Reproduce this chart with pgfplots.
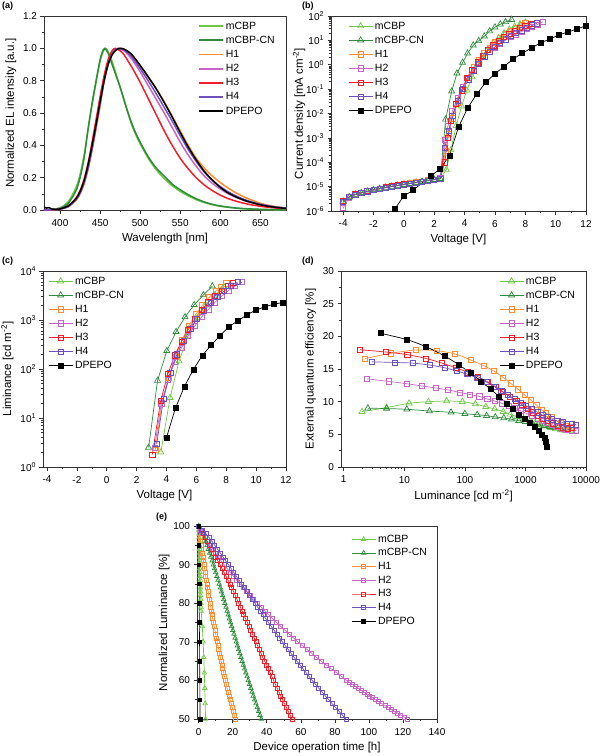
\documentclass[border=0pt]{standalone}
\usepackage{fontspec}
\setmainfont{Liberation Sans}
\usepackage{pgfplots}
\pgfplotsset{compat=1.18}
\definecolor{cA}{RGB}{110,200,70}
\definecolor{cB}{RGB}{46,140,60}
\definecolor{cH1}{RGB}{255,140,50}
\definecolor{cH2}{RGB}{200,100,200}
\definecolor{cH3}{RGB}{240,30,40}
\definecolor{cH4}{RGB}{110,80,190}
\definecolor{cK}{RGB}{0,0,0}
\pgfplotsset{
  myaxis/.style={
    scale only axis,
    axis line style={line width=0.7pt, black!80},
    tick align=outside,
    tick pos=left,
    major tick length=3.5pt,
    minor tick length=2pt,
    every tick/.style={black!80, line width=0.6pt},
    tick label style={font=\fontsize{10}{11}\selectfont},
    xticklabel shift=2pt,
    label style={font=\fontsize{11.5}{12}\selectfont},
    /pgf/number format/assume math mode=true,
    /pgf/number format/1000 sep={},
    legend cell align=left,
    legend style={draw=none, fill=none, font=\fontsize{10.5}{11}\selectfont, inner sep=0pt, row sep=1.3pt},
    legend image code/.code={\draw[mark repeat=2,mark phase=2,##1] plot coordinates {(0pt,0pt) (12pt,0pt) (24pt,0pt)};},
  },
  legaxis/.style={scale only axis, hide axis, xmin=0, xmax=1, ymin=0, ymax=1,
    legend cell align=left,
    legend style={draw=none, fill=none, font=\fontsize{10.5}{11}\selectfont, inner sep=0pt, row sep=1.4pt},
  },
  sA/.style={draw=cA, mark options={draw=cA}},
  sB/.style={draw=cB, mark options={draw=cB}},
  s1/.style={draw=cH1, mark options={draw=cH1}},
  s2/.style={draw=cH2, mark options={draw=cH2}},
  s3/.style={draw=cH3, mark options={draw=cH3}},
  s4/.style={draw=cH4, mark options={draw=cH4}},
  sK/.style={draw=cK, mark options={draw=cK, fill=cK}},
  tri/.style={mark=triangle, mark size=3.5pt, line width=0.7pt, mark options={solid, line width=0.7pt}},
  sq/.style={mark=square, mark size=2.6pt, line width=0.7pt, mark options={solid, line width=0.7pt}},
  fsq/.style={mark=square*, mark size=2.5pt, line width=0.7pt, mark options={solid}},
  trie/.style={mark=triangle, mark size=2.6pt, line width=0.7pt, mark options={solid, line width=0.7pt}},
  sqe/.style={mark=square, mark size=2pt, line width=0.7pt, mark options={solid, line width=0.7pt}},
  fsqe/.style={mark=square*, mark size=1.8pt, line width=0.6pt, mark options={solid}},
}
\begin{document}
\begin{tikzpicture}
\path[use as bounding box] (0,0) rectangle (602pt,-756pt);
\tikzset{plab/.style={anchor=north west, inner sep=0pt, font=\bfseries\fontsize{9}{10}\selectfont}}
\node[plab] at (2pt,-2pt) {(a)};
\node[plab] at (302pt,-2pt) {(b)};
\node[plab] at (2pt,-257pt) {(c)};
\node[plab] at (302pt,-257pt) {(d)};
\node[plab] at (156pt,-513pt) {(e)};

% ---------------- (a) ----------------
\begin{axis}[myaxis, at={(44pt,-210pt)}, anchor=south west, width=242pt, height=194pt,
  xmin=380, xmax=682, ymin=0, ymax=1.2,
  xtick={400,450,500,550,600,650}, minor x tick num=1,
  ytick={0,0.2,0.4,0.6,0.8,1.0,1.2}, minor y tick num=1,
  yticklabel style={/pgf/number format/.cd, fixed, fixed zerofill, precision=1},
  xlabel={Wavelength [nm]}, ylabel={Normalized EL intensity [a.u.]},
]
\addplot[sA, line width=1.5pt, smooth] coordinates {(380,0) (390,0.004) (400,0.014) (410,0.05) (420,0.14) (425,0.22) (430,0.34) (435,0.5) (440,0.65) (445,0.79) (450,0.92) (454,0.98) (457,1.0) (460,0.98) (465,0.92) (470,0.84) (475,0.76) (480,0.675) (485,0.595) (490,0.52) (495,0.46) (500,0.41) (510,0.32) (520,0.25) (530,0.195) (540,0.15) (550,0.115) (560,0.087) (570,0.064) (580,0.046) (590,0.033) (600,0.023) (620,0.011) (640,0.005) (660,0.002) (682,0.001)};
\addplot[sB, line width=1.5pt, smooth] coordinates {(380,0) (390,0.003) (400,0.01) (410,0.04) (420,0.12) (425,0.2) (430,0.32) (435,0.5) (440,0.66) (445,0.8) (450,0.93) (453,0.98) (456,1.0) (460,0.97) (465,0.9) (470,0.83) (475,0.76) (480,0.68) (485,0.6) (490,0.53) (495,0.47) (500,0.42) (510,0.33) (520,0.26) (530,0.21) (540,0.16) (550,0.125) (560,0.095) (570,0.07) (580,0.05) (590,0.035) (600,0.025) (620,0.012) (640,0.006) (660,0.003) (682,0.001)};
\addplot[s1, line width=1.5pt, smooth] coordinates {(380,0) (390,0.002) (400,0.006) (410,0.02) (420,0.06) (425,0.1) (430,0.16) (435,0.25) (440,0.37) (445,0.5) (450,0.64) (455,0.79) (460,0.9) (465,0.96) (470,0.99) (475,1.0) (480,0.995) (485,0.98) (490,0.955) (500,0.89) (510,0.82) (520,0.75) (530,0.67) (540,0.58) (550,0.49) (560,0.40) (570,0.32) (580,0.26) (590,0.21) (600,0.17) (610,0.135) (620,0.105) (630,0.08) (640,0.06) (650,0.042) (660,0.029) (670,0.02) (682,0.013)};
\addplot[s2, line width=1.5pt, smooth] coordinates {(380,0) (390,0.002) (400,0.006) (410,0.02) (420,0.065) (425,0.105) (430,0.17) (435,0.26) (440,0.38) (445,0.52) (450,0.66) (455,0.8) (460,0.91) (465,0.97) (472,1.0) (480,0.985) (485,0.96) (490,0.93) (500,0.855) (510,0.77) (520,0.685) (530,0.6) (540,0.51) (550,0.42) (560,0.34) (570,0.27) (580,0.21) (590,0.165) (600,0.13) (610,0.1) (620,0.077) (630,0.058) (640,0.044) (650,0.033) (660,0.024) (670,0.017) (682,0.012)};
\addplot[s3, line width=1.5pt, smooth] coordinates {(380,0) (390,0.002) (400,0.007) (410,0.024) (420,0.075) (425,0.12) (430,0.19) (435,0.29) (440,0.42) (445,0.56) (450,0.7) (455,0.83) (460,0.93) (465,0.985) (469,1.0) (475,0.985) (480,0.96) (485,0.92) (490,0.88) (500,0.79) (510,0.69) (520,0.59) (530,0.49) (540,0.4) (550,0.32) (560,0.255) (570,0.2) (580,0.155) (590,0.12) (600,0.092) (610,0.07) (620,0.054) (630,0.041) (640,0.031) (650,0.023) (660,0.017) (670,0.012) (682,0.008)};
\addplot[s4, line width=1.5pt, smooth] coordinates {(380,0) (390,0.002) (400,0.006) (410,0.02) (420,0.065) (425,0.105) (430,0.17) (435,0.26) (440,0.38) (445,0.52) (450,0.66) (455,0.8) (460,0.9) (465,0.965) (470,0.995) (474,1.0) (480,0.99) (485,0.97) (490,0.945) (500,0.875) (510,0.8) (520,0.72) (530,0.635) (540,0.55) (550,0.46) (560,0.375) (570,0.3) (580,0.235) (590,0.185) (600,0.145) (610,0.112) (620,0.086) (630,0.065) (640,0.049) (650,0.036) (660,0.026) (670,0.018) (682,0.012)};
\addplot[sK, line width=1.5pt, smooth] coordinates {(380,0.018) (383,0.012) (386,0.015) (390,0.006) (395,0.004) (400,0.007) (410,0.025) (420,0.07) (425,0.115) (430,0.18) (435,0.28) (440,0.4) (445,0.53) (450,0.67) (455,0.8) (460,0.9) (465,0.96) (470,0.99) (475,1.0) (480,0.995) (485,0.98) (490,0.96) (500,0.895) (510,0.825) (520,0.75) (530,0.665) (540,0.575) (550,0.48) (560,0.39) (570,0.31) (580,0.24) (590,0.185) (600,0.14) (610,0.105) (620,0.08) (630,0.06) (640,0.045) (650,0.032) (660,0.023) (670,0.016) (682,0.01)};
\end{axis}
\begin{axis}[legaxis, at={(44pt,-210pt)}, anchor=south west, width=242pt, height=194pt,
  legend style={at={(0.636,0.982)}, anchor=north west},
  legend image code/.code={\draw[#1] (0pt,0pt) -- (24pt,0pt);}]
\addlegendimage{sA, line width=1.7pt}\addlegendentry{mCBP}
\addlegendimage{sB, line width=1.7pt}\addlegendentry{mCBP-CN}
\addlegendimage{s1, line width=1.7pt}\addlegendentry{H1}
\addlegendimage{s2, line width=1.7pt}\addlegendentry{H2}
\addlegendimage{s3, line width=1.7pt}\addlegendentry{H3}
\addlegendimage{s4, line width=1.7pt}\addlegendentry{H4}
\addlegendimage{sK, line width=1.7pt}\addlegendentry{DPEPO}
\end{axis}

% ---------------- (b) ----------------
\begin{axis}[myaxis, at={(331pt,-211pt)}, anchor=south west, width=255pt, height=195pt,
  ymode=log, xmin=-4.8, xmax=12, ymin=1e-6, ymax=100, clip=false,
  xtick={-4,-2,0,2,4,6,8,10,12}, minor x tick num=1,
  ytick={1e-6,1e-5,1e-4,1e-3,1e-2,1e-1,1,10,100},
  yticklabels={10\textsuperscript{-6},10\textsuperscript{-5},10\textsuperscript{-4},10\textsuperscript{-3},10\textsuperscript{-2},10\textsuperscript{-1},10\textsuperscript{0},10\textsuperscript{1},10\textsuperscript{2}},
  xlabel={Voltage [V]}, ylabel={Current density [mA cm\textsuperscript{-2}]},
  ylabel style={yshift=-6pt},
  legend style={at={(0.067,0.982)}, anchor=north west},
]
\addplot[sA, tri] coordinates {(-4,2.51e-6) (-3.6,3.8e-6) (-3.2,4.79e-6) (-2.8,5.62e-6) (-2.4,6.46e-6) (-2,7.41e-6) (-1.6,8.32e-6) (-1.2,9.33e-6) (-0.8,1.02e-5) (-0.4,1.12e-5) (0,1.23e-5) (0.4,1.35e-5) (0.8,1.48e-5) (1.2,1.62e-5) (1.6,1.78e-5) (2,1.95e-5) (2.4,2.14e-5) (2.8,5.0e-5) (3.1,3.16e-4) (3.45,3.16e-3) (3.8,2.0e-2) (4.15,8.9e-2) (4.5,0.316) (4.85,1.0) (5.2,2.24) (5.55,4.47) (5.9,7.94) (6.25,12.6) (6.6,20.0) (6.95,28.2) (7.3,37.2) (7.65,46.8) (8.0,55.0)};
\addlegendentry{mCBP}
\addplot[sB, tri] coordinates {(-4,2.4e-6) (-3.6,3.7e-6) (-3.2,4.7e-6) (-2.8,5.5e-6) (-2.4,6.3e-6) (-2,7.2e-6) (-1.6,8.1e-6) (-1.2,9.1e-6) (-0.8,1.0e-5) (-0.4,1.1e-5) (0,1.2e-5) (0.4,1.32e-5) (0.8,1.45e-5) (1.2,1.6e-5) (1.6,1.75e-5) (2,1.92e-5) (2.4,2.1e-5) (2.75,5.75e-3) (3.15,8.13e-2) (3.5,0.447) (3.87,1.23) (4.2,2.95) (4.57,6.31) (4.93,9.55) (5.3,14.8) (5.65,24.0) (6.0,34.7) (6.35,45.7) (6.7,57.5) (7.1,70.8)};
\addlegendentry{mCBP-CN}
\addplot[s1, sq] coordinates {(-4,2.6e-6) (-3.6,3.9e-6) (-3.2,4.85e-6) (-2.8,5.7e-6) (-2.4,6.5e-6) (-2,7.5e-6) (-1.6,8.4e-6) (-1.2,9.4e-6) (-0.8,1.03e-5) (-0.4,1.13e-5) (0,1.24e-5) (0.4,1.36e-5) (0.8,1.49e-5) (1.2,1.63e-5) (1.6,1.8e-5) (2,1.97e-5) (2.4,2.16e-5) (2.75,3.0e-4) (2.95,1.5e-3) (3.2,6.3e-3) (3.55,2.8e-2) (3.9,0.1) (4.25,0.3) (4.6,0.8) (4.95,1.6) (5.3,3.0) (5.65,5.0) (6.0,8.3) (6.35,12.3) (6.7,17.8) (7.05,24.5) (7.4,33.0) (7.75,43.7) (8.0,53.7)};
\addlegendentry{H1}
\addplot[s2, sq] coordinates {(-4,1.3e-6) (-3.6,3.6e-6) (-3.2,4.7e-6) (-2.8,5.6e-6) (-2.4,6.4e-6) (-2,7.4e-6) (-1.6,8.3e-6) (-1.2,9.3e-6) (-0.8,1.02e-5) (-0.4,1.12e-5) (0,1.23e-5) (0.4,1.35e-5) (0.8,1.48e-5) (1.2,1.62e-5) (1.6,1.78e-5) (2,1.95e-5) (2.4,2.2e-5) (2.7,8.0e-4) (2.9,3.0e-3) (3.2,1.26e-2) (3.55,4.5e-2) (3.9,0.126) (4.25,0.3) (4.6,0.63) (4.95,1.12) (5.3,2.2) (5.65,3.5) (6.0,5.2) (6.35,7.4) (6.7,10.2) (7.05,13.5) (7.4,17.8) (7.75,23) (8.1,29) (8.45,36.3) (8.8,45) (9.15,57)};
\addlegendentry{H2}
\addplot[s3, sq] coordinates {(-4,2.55e-6) (-3.6,3.85e-6) (-3.2,4.8e-6) (-2.8,5.65e-6) (-2.4,6.5e-6) (-2,7.45e-6) (-1.6,8.35e-6) (-1.2,9.35e-6) (-0.8,1.02e-5) (-0.4,1.12e-5) (0,1.23e-5) (0.4,1.35e-5) (0.8,1.48e-5) (1.2,1.62e-5) (1.6,1.78e-5) (2,1.95e-5) (2.4,2.14e-5) (2.7,1.0e-4) (2.9,1.0e-3) (3.1,5.0e-3) (3.45,2.5e-2) (3.8,8.9e-2) (4.15,0.28) (4.5,0.63) (4.85,1.26) (5.2,2.4) (5.55,4.0) (5.9,6.3) (6.25,9.3) (6.6,13.5) (6.95,18.6) (7.3,24.5) (7.65,31.6) (8.0,38.9) (8.4,47.9)};
\addlegendentry{H3}
\addplot[s4, sq] coordinates {(-4,2.3e-6) (-3.6,3.7e-6) (-3.2,4.7e-6) (-2.8,5.5e-6) (-2.4,6.4e-6) (-2,7.3e-6) (-1.6,8.2e-6) (-1.2,9.2e-6) (-0.8,1.01e-5) (-0.4,1.11e-5) (0,1.22e-5) (0.4,1.34e-5) (0.8,1.47e-5) (1.2,1.6e-5) (1.6,1.76e-5) (2,1.93e-5) (2.4,2.12e-5) (2.7,4.0e-4) (2.95,2.0e-3) (3.2,7.9e-3) (3.55,3.2e-2) (3.9,0.1) (4.25,0.25) (4.6,0.56) (4.95,1.05) (5.3,2.2) (5.65,3.5) (6.0,5.4) (6.35,7.8) (6.7,11) (7.05,15) (7.4,20) (7.75,26) (8.1,33) (8.45,41) (8.75,50)};
\addlegendentry{H4}
\addplot[sK, fsq] coordinates {(-0.6,1.2e-6) (0,4.17e-6) (0.6,7.08e-6) (1.8,2.82e-5) (2.4,5.37e-5) (3.0,1.91e-4) (3.6,2.75e-3) (4.2,1.66e-2) (4.8,6.31e-2) (5.4,0.19) (6.0,0.427) (6.6,0.851) (7.2,1.70) (7.8,3.02) (8.4,4.79) (9.0,7.94) (9.6,11.2) (10.2,16.6) (10.8,21.9) (11.4,29.5) (12.0,39.8)};
\addlegendentry{DPEPO}
\end{axis}

% ---------------- (c) ----------------
\begin{axis}[myaxis, at={(43pt,-467pt)}, anchor=south west, width=243pt, height=196pt,
  ymode=log, xmin=-4.27, xmax=12, ymin=1, ymax=10000, clip=false,
  xtick={-4,-2,0,2,4,6,8,10,12}, minor x tick num=1,
  ytick={1,10,100,1000,10000},
  yticklabels={10\textsuperscript{0},10\textsuperscript{1},10\textsuperscript{2},10\textsuperscript{3},10\textsuperscript{4}},
  minor ytick={2,3,4,5,6,7,8,9,20,30,40,50,60,70,80,90,200,300,400,500,600,700,800,900,2000,3000,4000,5000,6000,7000,8000,9000},
  xlabel={Voltage [V]}, ylabel={Liminance [cd m\textsuperscript{-2}]},
  legend style={at={(0.021,0.982)}, anchor=north west},
]
\addplot[sA, tri] coordinates {(3.62,2.0) (4.24,26) (4.84,145) (5.44,480) (6.04,1100) (6.64,2000) (7.24,3200) (7.84,4800)};
\addlegendentry{mCBP}
\addplot[sB, tri] coordinates {(2.8,2.5) (3.4,58) (4.02,235) (4.64,575) (5.24,1150) (5.85,2040) (6.47,3240) (7.07,4900)};
\addlegendentry{mCBP-CN}
\addplot[s1, sq] coordinates {(3.25,2.2) (3.7,20) (4.15,65) (4.6,180) (5.05,400) (5.5,760) (5.95,1300) (6.4,2000) (6.85,2900) (7.3,3900) (7.65,4700) (8.0,5600)};
\addlegendentry{H1}
\addplot[s2, sq] coordinates {(3.2,2.5) (3.65,20) (4.1,60) (4.55,140) (5.0,270) (5.45,470) (5.9,760) (6.35,1150) (6.8,1650) (7.25,2300) (7.7,3100) (8.15,4000) (8.6,4900) (9.05,5900)};
\addlegendentry{H2}
\addplot[s3, sq] coordinates {(3.05,1.8) (3.6,22) (4.1,80) (4.55,190) (5.0,360) (5.45,640) (5.9,1050) (6.35,1600) (6.8,2300) (7.25,3100) (7.7,4000) (8.1,4900) (8.45,5700)};
\addlegendentry{H3}
\addplot[s4, sq] coordinates {(3.35,3.0) (3.8,25) (4.25,85) (4.7,200) (5.15,370) (5.6,650) (6.05,1050) (6.5,1550) (6.95,2200) (7.4,3000) (7.85,3900) (8.3,4900) (8.75,5900)};
\addlegendentry{H4}
\addplot[sK, fsq] coordinates {(4.0,4) (4.6,16) (5.2,44) (5.8,98) (6.4,190) (7.0,310) (7.6,485) (8.2,740) (8.8,970) (9.4,1290) (10.0,1600) (10.6,1870) (11.2,2110) (11.8,2270)};
\addlegendentry{DPEPO}
\end{axis}

% ---------------- (d) ----------------
\begin{axis}[myaxis, at={(341pt,-467pt)}, anchor=south west, width=245pt, height=196pt,
  xmode=log, xmin=0.9, xmax=10000, ymin=0, ymax=30, clip=false,
  xtick={1,10,100,1000,10000}, xticklabels={1,10,100,1000,10000},
  minor xtick={2,3,4,5,6,7,8,9,20,30,40,50,60,70,80,90,200,300,400,500,600,700,800,900,2000,3000,4000,5000,6000,7000,8000,9000},
  ytick={0,5,10,15,20,25,30}, minor y tick num=1,
  xlabel={Luminance [cd m\textsuperscript{-2}]}, ylabel={External quantum efficiency [\%]},
  legend style={at={(0.645,0.982)}, anchor=north west},
]
\addplot[sA, tri, smooth] coordinates {(2.0,8.47) (5.1,9.1) (12,9.75) (25,10.0) (50,10.1) (91,10.0) (149,9.64) (222,9.23) (310,8.88) (430,8.47) (560,8.06) (735,7.7) (935,7.35) (1180,7.04) (1450,6.73) (1790,6.48) (2150,6.22) (2620,6.02) (3150,5.82) (3800,5.66) (4600,5.56) (5600,5.51)};
\addlegendentry{mCBP}
\addplot[sB, tri, smooth] coordinates {(2.5,9.0) (5.1,8.95) (11,8.83) (26,8.57) (59,8.37) (100,8.16) (160,8.0) (228,7.86) (318,7.65) (440,7.5) (590,7.3) (775,7.09) (1000,6.94) (1290,6.73) (1620,6.53) (2030,6.33) (2520,6.17) (3100,6.02) (3800,5.92) (4600,5.82)};
\addlegendentry{mCBP-CN}
\addplot[s1, sq, smooth] coordinates {(2.25,16.6) (5.9,17.4) (15.4,17.9) (34,17.8) (69,17.3) (124,16.4) (205,15.5) (300,14.7) (430,13.7) (570,12.8) (760,11.9) (975,11.0) (1220,10.3) (1510,9.5) (1830,8.8) (2200,8.2) (2680,7.6) (3230,7.1) (3800,6.7) (4590,6.3) (5500,6.0)};
\addlegendentry{H1}
\addplot[s2, sq, smooth] coordinates {(2.4,13.5) (5.5,13.1) (11,12.75) (19.4,12.4) (33,12.1) (53,11.8) (83,11.4) (120,11.1) (173,10.8) (235,10.4) (310,10.1) (410,9.75) (530,9.4) (665,9.0) (835,8.6) (1030,8.2) (1290,7.86) (1580,7.45) (1900,7.1) (2300,6.73) (2770,6.43) (3360,6.12) (4060,5.92) (4900,5.77) (5900,5.61) (6900,5.56)};
\addlegendentry{H2}
\addplot[s3, sq, smooth] coordinates {(1.86,17.95) (4.9,17.6) (11.2,17.2) (23,16.6) (42,15.9) (70,15.2) (113,14.5) (165,13.8) (235,13.06) (320,12.3) (430,11.5) (550,10.77) (710,10.1) (890,9.5) (1100,8.9) (1340,8.37) (1620,7.86) (1950,7.45) (2350,7.04) (2830,6.69) (3450,6.33) (4150,6.07) (5000,5.92) (5800,6.0)};
\addlegendentry{H3}
\addplot[s4, sq, smooth] coordinates {(2.9,16.1) (7,16.0) (14,15.9) (26,15.6) (46,15.2) (73,14.7) (110,14.2) (161,13.6) (228,13.0) (305,12.3) (400,11.6) (515,11.0) (665,10.4) (835,9.85) (1030,9.34) (1290,8.83) (1580,8.37) (1900,7.96) (2300,7.6) (2770,7.3) (3360,7.04) (4060,6.84) (4900,6.63) (5900,6.53) (6900,6.5)};
\addlegendentry{H4}
\addplot[sK, fsq, smooth] coordinates {(4.1,20.46) (11,19.5) (23,18.4) (46,17.0) (78,15.7) (125,14.34) (187,13.06) (267,11.9) (370,10.76) (490,9.74) (630,8.83) (780,8.06) (980,7.35) (1180,6.69) (1420,6.08) (1650,5.56) (1870,4.9) (2080,4.39) (2200,3.78) (2290,3.11)};
\addlegendentry{DPEPO}
\end{axis}

% ---------------- (e) ----------------
\begin{axis}[myaxis, at={(197pt,-719pt)}, anchor=south west, width=240pt, height=193pt,
  xmin=-1, xmax=140, ymin=50, ymax=100, clip=false,
  xtick={0,20,40,60,80,100,120,140}, minor x tick num=1,
  ytick={50,60,70,80,90,100}, minor y tick num=1,
  xlabel={Device operation time [h]}, ylabel={Normalized Luminance [\%]},
  ylabel style={yshift=-3pt},
]
\addplot[sA, trie] coordinates {(0,100) (0.07,99) (0.14,98) (0.21,97) (0.28,96) (0.35,95) (0.42,94) (0.49,93) (0.56,92) (0.63,91) (0.7,90) (0.76,89) (0.82,88) (0.88,87) (0.94,86) (1.0,85) (1.06,84) (1.12,83) (1.18,82) (1.24,81) (1.3,80) (1.37,79) (1.44,78) (2.1,74) (2.6,70) (3.0,66) (3.3,62) (3.55,58) (3.8,54) (4.05,50)};
\addplot[sB, trie] coordinates {(0,100) (1.41,99) (2.42,98) (3.32,97) (4.16,96) (4.96,95) (5.69,94) (6.43,93) (7.16,92) (7.9,91) (8.63,90) (9.31,89) (10.0,88) (10.68,87) (11.37,86) (12.05,85) (12.71,84) (13.38,83) (14.04,82) (14.71,81) (15.37,80) (16.04,79) (16.7,78) (17.37,77) (18.03,76) (18.7,75) (19.37,74) (20.04,73) (20.72,72) (21.39,71) (22.06,70) (22.75,69) (23.44,68) (24.12,67) (24.81,66) (25.5,65) (26.22,64) (26.94,63) (27.66,62) (28.38,61) (29.1,60) (29.85,59) (30.6,58) (31.34,57) (32.09,56) (32.84,55) (33.63,54) (34.42,53) (35.22,52) (36.01,51) (36.8,50)};
\addplot[s1, sqe] coordinates {(0,100) (0.27,99) (0.56,98) (0.86,97) (1.16,96) (1.47,95) (1.79,94) (2.12,93) (2.44,92) (2.77,91) (3.09,90) (3.44,89) (3.79,88) (4.13,87) (4.48,86) (4.83,85) (5.2,84) (5.57,83) (5.95,82) (6.32,81) (6.69,80) (7.09,79) (7.49,78) (7.89,77) (8.29,76) (8.69,75) (9.12,74) (9.55,73) (9.99,72) (10.42,71) (10.85,70) (11.31,69) (11.78,68) (12.24,67) (12.71,66) (13.17,65) (13.68,64) (14.18,63) (14.69,62) (15.19,61) (15.7,60) (16.25,59) (16.8,58) (17.36,57) (17.91,56) (18.46,55) (19.07,54) (19.68,53) (20.28,52) (20.89,51) (21.5,50)};
\addplot[s2, sqe] coordinates {(0,100) (1.07,99) (2.33,98) (3.7,97) (5.13,96) (6.63,95) (8.27,94) (9.92,93) (11.56,92) (13.2,91) (14.85,90) (16.71,89) (18.57,88) (20.43,87) (22.29,86) (24.15,85) (26.2,84) (28.25,83) (30.3,82) (32.35,81) (34.4,80) (36.66,79) (38.92,78) (41.18,77) (43.44,76) (45.7,75) (48.2,74) (50.7,73) (53.2,72) (55.7,71) (58.2,70) (60.94,69) (63.68,68) (66.42,67) (69.16,66) (71.9,65) (74.92,64) (77.94,63) (80.96,62) (83.98,61) (87.0,60) (88.7,59.5) (90.36,59) (92.0,58.5) (93.72,58) (95.4,57.5) (97.08,57) (98.8,56.5) (100.44,56) (102.1,55.5) (103.8,55) (105.7,54.5) (107.54,54) (109.4,53.5) (111.28,53) (113.2,52.5) (115.02,52) (116.9,51.5) (118.76,51) (120.6,50.5) (122.5,50)};
\addplot[s3, sqe] coordinates {(0,100) (1.3,99) (2.5,98) (3.7,97) (4.8,96) (6.0,95) (7.3,94) (8.6,93) (9.9,92) (11.2,91) (12.5,90) (13.7,89) (14.9,88) (16.1,87) (17.2,86) (18.3,85) (19.4,84) (20.5,83) (21.5,82) (22.5,81) (23.5,80) (24.5,79) (25.5,78) (26.5,77) (27.5,76) (28.6,75) (29.6,74) (30.6,73) (31.6,72) (32.6,71) (33.6,70) (34.6,69) (35.6,68) (36.6,67) (37.6,66) (38.7,65) (39.92,64) (40.94,63) (41.96,62) (42.98,61) (44.0,60) (45.06,59) (46.12,58) (47.18,57) (48.24,56) (49.3,55) (50.4,54) (51.5,53) (52.6,52) (53.7,51) (54.8,50)};
\addplot[s4, sqe] coordinates {(0,100) (2.36,99) (4.28,98) (6.07,97) (7.8,96) (9.46,95) (11.06,94) (12.66,93) (14.25,92) (15.85,91) (17.45,90) (19.0,89) (20.55,88) (22.1,87) (23.65,86) (25.2,85) (26.76,84) (28.32,83) (29.88,82) (31.44,81) (33.0,80) (34.6,79) (36.2,78) (37.8,77) (39.4,76) (41.0,75) (42.64,74) (44.28,73) (45.92,72) (47.56,71) (49.2,70) (50.9,69) (52.6,68) (54.3,67) (56.0,66) (57.7,65) (59.5,64) (61.3,63) (63.1,62) (64.9,61) (66.7,60) (68.62,59) (70.54,58) (72.46,57) (74.38,56) (76.3,55) (78.34,54) (80.38,53) (82.42,52) (84.46,51) (86.5,50)};
\addplot[sK, fsqe] coordinates {(0,100) (0.08,95) (0.16,90) (0.24,85) (0.32,80) (0.4,75) (0.48,70) (0.56,65) (0.64,60) (0.72,55) (0.8,50)};
\end{axis}
\begin{axis}[legaxis, at={(197pt,-719pt)}, anchor=south west, width=240pt, height=193pt,
  legend style={at={(0.642,0.966)}, anchor=north west, row sep=0.9pt},
  legend image code/.code={\draw[mark repeat=2,mark phase=2,#1] plot coordinates {(0pt,0pt) (12pt,0pt) (24pt,0pt)};}]
\addlegendimage{sA, trie, line width=0.8pt}\addlegendentry{mCBP}
\addlegendimage{sB, trie, line width=0.8pt}\addlegendentry{mCBP-CN}
\addlegendimage{s1, sqe, line width=0.8pt}\addlegendentry{H1}
\addlegendimage{s2, sqe, line width=0.8pt}\addlegendentry{H2}
\addlegendimage{s3, sqe, line width=0.8pt}\addlegendentry{H3}
\addlegendimage{s4, sqe, line width=0.8pt}\addlegendentry{H4}
\addlegendimage{sK, fsqe, line width=0.8pt}\addlegendentry{DPEPO}
\end{axis}
\end{tikzpicture}
\end{document}
